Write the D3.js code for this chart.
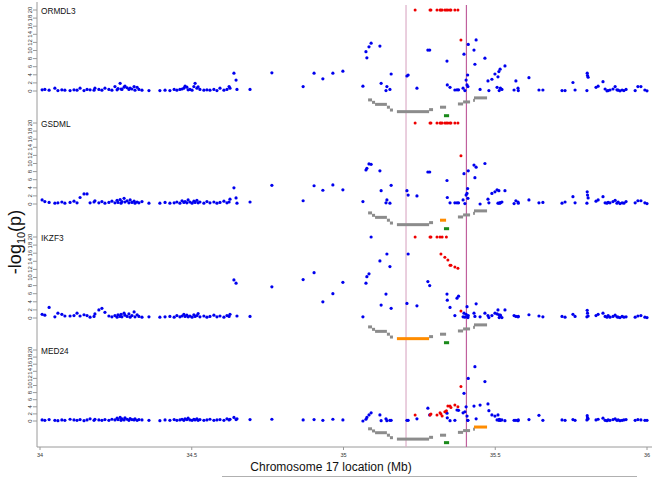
<!DOCTYPE html>
<html><head><meta charset="utf-8">
<script src="https://cdn.jsdelivr.net/npm/d3@7"></script>
<style>body{margin:0;background:#fff}svg{display:block}</style>
</head><body><svg id="c" width="667" height="478"></svg>
<script>
// ---------------- data ----------------
const panelNames = ["ORMDL3","GSDML","IKZF3","MED24"];
const xTicks = [34, 34.5, 35, 35.5, 36];
const xTickLabels = ["34","34.5","35","35.5","36"];
const yTicks = [0,2,4,6,8,10,12,14,16,18,20];
const markerLines = [35.206, 35.405];

const snpMb = [
34.007,34.016,34.030,34.049,34.059,34.072,34.082,34.099,34.112,34.122,
34.132,34.145,34.155,34.165,34.178,34.181,34.194,34.204,34.214,34.227,
34.237,34.247,34.254,34.257,34.264,34.267,34.270,34.277,34.280,34.287,
34.293,34.297,34.303,34.310,34.313,34.320,34.326,34.336,34.359,34.395,
34.412,34.428,34.442,34.451,34.461,34.468,34.474,34.478,34.484,34.488,
34.494,34.501,34.507,34.511,34.517,34.521,34.527,34.540,34.550,34.560,
34.573,34.583,34.593,34.606,34.616,34.623,34.626,34.639,34.646,34.649,
34.692,34.764,34.867,34.903,34.932,34.965,34.998,
35.064,35.074,35.077,35.084,35.091,35.120,35.124,35.140,35.143,35.153,
35.157,35.209,35.213,35.242,35.278,35.284,35.341,35.342,35.351,35.367,
35.374,35.379,35.394,35.397,35.400,35.404,35.407,35.409,35.410,35.411,
35.430,35.433,35.437,35.450,35.466,35.476,35.479,35.489,35.499,35.506,
35.509,35.512,35.513,35.516,35.517,35.522,35.532,35.562,35.568,35.575,
35.576,35.611,35.644,35.657,35.720,35.730,35.756,35.763,35.802,35.803,
35.804,35.806,35.832,35.839,35.855,35.862,35.868,35.872,35.878,35.888,
35.895,35.901,35.905,35.911,35.918,35.924,35.931,35.961,35.970,35.980,
35.993,36.000];

const ormdl3P = [
0.3,0.4,0.2,0.7,0.1,0.3,0.2,0.1,0.3,0.2,
0.7,0.1,0.4,0.3,0.2,0.7,0.4,0.2,0.7,0.4,
0.2,1.1,0.3,0.6,1.9,0.5,0.4,0.95,1.2,0.8,
0.4,0.7,0.5,1.1,0.2,0.9,0.4,0.2,0.1,0.1,
0.2,0.1,0.4,0.2,0.4,0.5,0.7,1.2,0.95,0.3,
0.4,0.2,1.1,1.9,0.7,1.0,0.4,0.2,0.3,0.2,
0.4,0.1,0.7,0.2,0.4,1.1,0.7,4.4,2.7,0.4,
0.4,4.5,1.1,4.4,3.0,4.4,4.9,
1.2,9.7,8.2,10.9,11.8,11.1,1.9,0.1,1.1,0.4,
4.2,3.7,3.95,0.7,10.1,10.1,7.4,1.5,0.9,0.25,
0.3,0.3,0.7,9.1,0.1,2.7,1.5,3.95,1.1,11.5,
10.1,6.6,12.6,0.4,8.1,2.5,0.1,2.9,4.2,0.9,
3.5,4.8,0.1,5.4,0.7,0.4,6.2,0.25,2.5,0.7,
0.1,3.3,0.25,0.25,0.1,0.1,2.1,0.25,0.1,4.4,
3.8,3.4,0.9,1.2,2.3,0.5,0.05,0.1,0.25,0.5,
1.1,0.3,0.2,0.05,0.25,0.1,0.4,0.1,1.1,1.1,
0.25,0.05];

const gsdmlP = [
1.0,0.6,0.4,0.2,0.3,0.5,0.2,0.4,0.7,0.3,
1.6,2.5,2.5,0.3,0.5,0.8,0.3,0.6,0.2,0.4,
0.7,0.3,0.9,0.4,1.1,0.2,0.6,1.4,0.5,0.8,
0.3,1.0,0.4,0.7,0.2,0.5,0.3,0.6,0.2,0.2,
0.4,0.2,0.3,0.5,0.2,0.8,0.4,0.6,0.3,1.0,
0.5,0.2,0.7,0.4,0.9,0.3,0.5,0.2,0.6,0.3,
0.5,0.2,0.4,0.7,0.3,0.5,1.2,4.0,1.5,0.2,
0.5,4.6,0.8,4.5,3.4,4.7,3.5,
0.6,8.4,8.8,9.9,9.8,8.2,3.3,0.3,1.0,0.2,
4.6,3.3,2.2,2.0,7.9,7.9,5.8,1.6,0.3,0.3,
0.3,0.3,1.0,7.5,0.1,2.2,2.6,3.8,1.4,8.2,
9.6,6.5,9.1,0.0,10.0,1.2,0.3,2.6,3.0,3.5,
0.2,3.3,0.2,0.3,0.3,0.5,3.3,0.1,0.8,0.5,
0.2,1.0,0.3,0.4,0.2,0.5,1.8,0.3,0.2,3.0,
2.2,1.5,0.7,1.0,1.8,0.3,0.2,0.4,0.3,0.6,
0.9,0.2,0.5,0.1,0.3,0.2,0.6,0.3,0.8,0.8,
0.3,0.1];

const ikzf3P = [
0.9,0.7,2.6,0.3,1.2,0.9,0.5,0.5,0.6,1.2,
0.5,0.8,0.6,0.2,0.4,1.0,2.0,2.4,1.4,0.5,
0.3,0.6,0.2,0.8,0.4,0.9,0.3,1.2,0.7,0.4,
1.0,0.2,0.6,1.5,0.3,0.8,0.4,0.2,0.3,0.2,
0.3,0.4,0.2,0.6,0.3,0.5,0.9,0.4,0.7,0.3,
0.5,0.2,0.8,0.4,0.6,1.1,0.3,0.5,0.2,0.4,
0.7,0.3,0.5,0.2,0.6,0.4,0.9,9.4,8.6,0.5,
0.4,7.7,9.5,11.2,4.0,6.0,8.8,
0.3,8.6,10.2,10.9,20,14.1,3.2,5.9,15.8,12.7,
2.4,3.6,15.8,3.0,9.0,8.0,5.9,4.4,2.6,0.6,
4.9,5.4,0.3,1.2,0.2,0.9,2.8,0.3,0.1,0.6,
1.2,0.4,3.5,0.3,1.2,0.6,0.1,0.6,1.2,1.0,
2.0,0.8,0.1,0.4,0.7,0.1,2.0,0.6,0.4,0.3,
0.4,0.8,0.5,0.3,0.4,0.2,0.9,0.4,0.3,1.9,
1.2,0.5,0.6,0.9,1.2,0.4,0.2,0.6,0.2,0.4,
0.7,0.3,0.2,0.1,0.4,0.2,0.3,0.2,0.5,0.6,
0.2,0.1];

const med24P = [
0.3,0.2,0.4,0.2,0.1,0.3,0.2,0.5,0.3,0.2,
0.4,0.1,0.3,0.6,0.2,0.5,0.3,0.2,0.4,0.2,
0.5,0.3,0.8,0.4,1.0,0.2,0.6,0.3,0.9,0.5,
0.2,0.7,0.4,0.3,0.6,0.2,0.4,0.3,0.2,0.1,
0.3,0.2,0.4,0.2,0.3,0.5,0.2,0.6,0.4,0.8,
0.3,0.2,0.5,0.3,0.6,0.2,0.4,0.2,0.3,0.5,
0.2,0.3,0.4,0.2,0.6,0.3,0.5,1.0,0.4,0.6,
0.4,0.5,0.3,0.4,0.2,0.5,0.3,
0.0,0.5,1.0,1.7,2.3,1.7,0.1,0.6,0.1,0.2,
0.2,0.2,0.2,0.6,3.6,1.7,2.2,0.9,0.1,0.2,
3.1,3.0,2.3,7.8,2.6,4.0,1.4,0.2,0.2,12.0,
4.2,15.3,0.6,4.5,11.1,4.8,2.9,1.7,1.4,0.3,
1.7,0.2,0.5,0.3,0.2,0.3,0.1,0.2,0.2,0.1,
0.3,0.4,1.6,0.2,0.3,0.2,0.4,0.2,0.3,1.5,
0.9,0.6,0.3,0.5,0.8,0.2,0.1,0.3,0.2,0.4,
0.6,0.2,0.3,0.1,0.2,0.3,0.4,0.2,0.4,0.3,
0.2,0.2];

// highlighted (red) SNPs
const leadMb = [35.236,35.285,35.288,35.308,35.318,35.321,35.325,35.334,35.339,35.344,35.351,35.354,35.367,35.377,35.387];
const ormdl3Lead = [20,20,20,20,20,20,20,20,20,20,20,20,20,20,12.6];
const gsdmlLead  = [20,20,20,20,20,20,20,20,20,20,20,20,20,20,11.9];
const ikzf3Lead  = [20,20,20,20,20,15.8,20,15.0,20,14.3,13.0,13.0,12.6,12.3,1.7];
const med24Lead  = [1.7,1.7,2.0,1.7,2.3,2.0,1.4,2.6,2.9,4.2,4.2,3.8,4.5,4.0,9.7];

// genes
const geneName  = ["g1","g2","g3","g4","g5","IKZF3","g7","GSDML","ZPBP2","g10","g11","g12","MED24"];
const geneStart = [35.081,35.094,35.104,35.143,35.153,35.176,35.282,35.318,35.331,35.377,35.394,35.427,35.430];
const geneEnd   = [35.094,35.104,35.143,35.153,35.163,35.282,35.295,35.338,35.348,35.394,35.417,35.433,35.473];
const geneRow   = [-2.2,-2.8,-3.3,-4.0,-4.7,-5.1,-4.6,-4.0,-6.1,-3.2,-2.7,-2.3,-1.7];
const greenGene = "ZPBP2";

const panelValues = [ormdl3P, gsdmlP, ikzf3P, med24P];
const panelLead = [ormdl3Lead, gsdmlLead, ikzf3Lead, med24Lead];

// ---------------- layout ----------------
const zeroY = [91, 204, 318, 421];
const topY  = [10, 123, 237, 350];
const axisX = 37, axisBottom = 447, axisRight = 652;

const svg = d3.select("#c");
const x = d3.scaleLinear().domain([34, 36]).range([40, 647]);
const font = "Liberation Sans, Arial, sans-serif";

// left axis line
svg.append("line").attr("x1",axisX).attr("x2",axisX).attr("y1",2).attr("y2",axisBottom)
  .attr("stroke","#9a9a9a").attr("stroke-width",1);

// bottom axis
const xAxisG = svg.append("g").attr("transform",`translate(0,${axisBottom})`);
xAxisG.append("line").attr("x1",axisX).attr("x2",axisRight).attr("y1",0).attr("y2",0)
  .attr("stroke","#9a9a9a");
xTicks.forEach((t,i)=>{
  xAxisG.append("line").attr("x1",x(t)).attr("x2",x(t)).attr("y1",0).attr("y2",3).attr("stroke","#9a9a9a");
  xAxisG.append("text").attr("x",x(t)).attr("y",10).attr("text-anchor","middle")
    .attr("font-family",font).attr("font-size",5.5).attr("fill","#333").text(xTickLabels[i]);
});

// marker lines
svg.append("line").attr("x1",x(markerLines[0])).attr("x2",x(markerLines[0])).attr("y1",5).attr("y2",axisBottom)
  .attr("stroke","#dcaec8").attr("stroke-width",1.2);
svg.append("line").attr("x1",x(markerLines[1])).attr("x2",x(markerLines[1])).attr("y1",5).attr("y2",axisBottom)
  .attr("stroke","#c0609c").attr("stroke-width",1.2);

panelNames.forEach((name, p) => {
  const y = d3.scaleLinear().domain([0, 20]).range([zeroY[p], topY[p]]);
  const g = svg.append("g");

  // y ticks
  yTicks.forEach(t => {
    g.append("line").attr("x1",axisX-4).attr("x2",axisX).attr("y1",y(t)).attr("y2",y(t))
      .attr("stroke","#9a9a9a");
    g.append("text").attr("transform",`translate(${axisX-5},${y(t)}) rotate(-90)`)
      .attr("text-anchor","middle").attr("font-family",font).attr("font-size",6)
      .attr("fill","#333").text(t);
  });

  // panel label
  g.append("text").attr("x",41).attr("y",y(20)+3.5).attr("font-family",font)
    .attr("font-size",8.3).attr("fill","#111").text(name);

  // genes
  geneName.forEach((gn, i) => {
    const col = gn === name ? "#ff8c00" : (gn === greenGene ? "#1a8a1a" : "#8c8c8c");
    g.append("rect").attr("x",x(geneStart[i])).attr("width",x(geneEnd[i])-x(geneStart[i]))
      .attr("y",y(geneRow[i])-1.5).attr("height",3).attr("fill",col);
  });

  // blue points
  const vals = panelValues[p];
  g.selectAll("circle.b").data(snpMb).join("circle").attr("class","b")
    .attr("cx",d=>x(d)).attr("cy",(d,i)=>y(vals[i])).attr("r",1.6).attr("fill","#0000ee");

  // red points
  const lv = panelLead[p];
  g.selectAll("circle.r").data(leadMb).join("circle").attr("class","r")
    .attr("cx",d=>x(d)).attr("cy",(d,i)=>y(lv[i])).attr("r",1.5).attr("fill","#ee0000");
});

// y title
const yt = svg.append("text").attr("transform","translate(21,242) rotate(-90)")
  .attr("text-anchor","middle").attr("font-family",font).attr("font-size",18).attr("fill","#111");
yt.append("tspan").text("-log");
yt.append("tspan").attr("font-size",11).attr("dy",4).text("10");
yt.append("tspan").attr("dy",-4).text("(p)");

// x title
svg.append("text").attr("x",331).attr("y",471).attr("text-anchor","middle")
  .attr("font-family",font).attr("font-size",12).attr("fill","#111")
  .text("Chromosome 17 location (Mb)");
svg.append("line").attr("x1",222).attr("x2",637).attr("y1",476.5).attr("y2",476.5)
  .attr("stroke","#b0b0b0");
</script></body></html>
